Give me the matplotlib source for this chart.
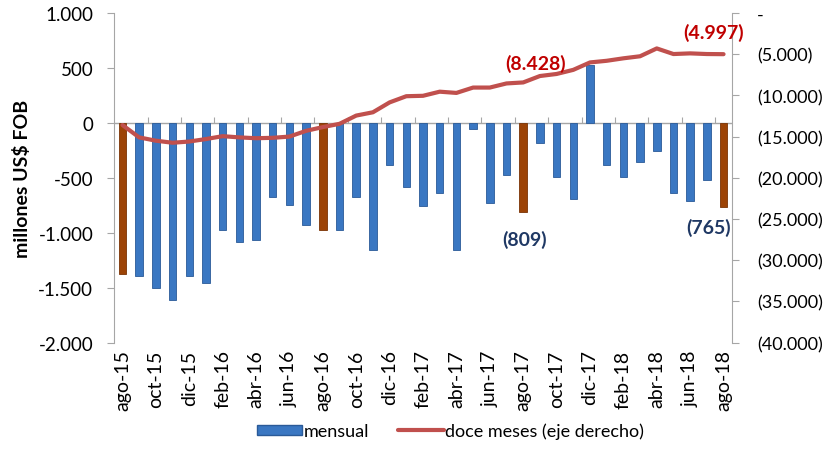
import numpy as np
import matplotlib.pyplot as plt
from matplotlib.ticker import FuncFormatter
from matplotlib.patches import Patch

plt.rcParams['font.family'] = ['Lato', 'DejaVu Sans']

# Datos (millones US$ FOB)
meses = ['ago-15', 'sep-15', 'oct-15', 'nov-15', 'dic-15', 'ene-16', 'feb-16', 'mar-16',
         'abr-16', 'may-16', 'jun-16', 'jul-16', 'ago-16', 'sep-16', 'oct-16', 'nov-16',
         'dic-16', 'ene-17', 'feb-17', 'mar-17', 'abr-17', 'may-17', 'jun-17', 'jul-17',
         'ago-17', 'sep-17', 'oct-17', 'nov-17', 'dic-17', 'ene-18', 'feb-18', 'mar-18',
         'abr-18', 'may-18', 'jun-18', 'jul-18', 'ago-18']

mensual = [-1379, -1394, -1500, -1616, -1394, -1455, -975, -1084,
           -1069, -674, -747, -929, -975, -975, -674, -1157,
           -383, -580, -756, -635, -1160, -52, -732, -474,
           -809, -179, -489, -695, 525, -383, -489, -361,
           -255, -635, -711, -522, -765]

doce_meses = [-13600, -15100, -15500, -15750, -15600, -15300, -14950, -15100,
              -15200, -15150, -15000, -14300, -13850, -13450, -12450, -12050,
              -10850, -10100, -10050, -9550, -9700, -9050, -9050, -8550,
              -8428, -7650, -7400, -6900, -6000, -5800, -5500, -5250,
              -4300, -4980, -4900, -4980, -4997]

# meses de agosto resaltados
resaltados = ['ago-15', 'ago-16', 'ago-17', 'ago-18']

azul = '#3A77C2'
x = np.arange(len(meses))
colores = ['#9C4306' if m in resaltados else azul for m in meses]
bordes = ['#7A3304' if m in resaltados else '#2A5A98' for m in meses]

fig = plt.figure(figsize=(8.27, 4.52), dpi=100)
ax1 = fig.add_axes([0.138, 0.240, 0.747, 0.729])
ax2 = ax1.twinx()

ax1.bar(x, mensual, width=0.45, color=colores, edgecolor=bordes, linewidth=0.6, zorder=2)
ax1.axhline(0, color='#a6a6a6', lw=1, zorder=1)

linea, = ax2.plot(x, doce_meses, color='#C0504D', lw=3, solid_capstyle='round', zorder=3)

# ejes
ax1.set_xlim(-0.5, len(meses) - 0.5)
ax1.set_ylim(-2000, 1000)
ax1.set_yticks(np.arange(-2000, 1001, 500))
ax1.yaxis.set_major_formatter(FuncFormatter(lambda v, p: f'{v:,.0f}'.replace(',', '.')))
ax2.set_ylim(-40000, 0)
ax2.set_yticks(np.arange(-40000, 1, 5000))
ax2.yaxis.set_major_formatter(
    FuncFormatter(lambda v, p: '-' if v == 0 else f'({-v:,.0f})'.replace(',', '.')))

ax1.set_xticks(x[::2])
ax1.set_xticklabels(meses[::2], rotation=90, fontsize=14)
ax1.tick_params(axis='x', length=0, pad=5)
ax1.tick_params(axis='y', labelsize=13.5, color='#a6a6a6', length=5, pad=10)
ax2.tick_params(axis='y', labelsize=13, color='#a6a6a6', length=5, pad=13)

# marcas del eje de categorias sobre el cero
sec = ax1.secondary_xaxis(2 / 3)
sec.set_xticks(x[1:-1:2] + 0.5)
sec.set_xticklabels([])
sec.tick_params(direction='out', length=4, color='#a6a6a6')
sec.spines['bottom'].set_visible(False)
sec.spines['top'].set_visible(False)

for ax in (ax1, ax2):
    ax.spines['top'].set_visible(False)
    ax.spines['bottom'].set_visible(False)
    ax.spines['left'].set_color('#a6a6a6')
    ax.spines['right'].set_color('#a6a6a6')
ax2.spines['left'].set_visible(False)
ax1.spines['right'].set_visible(False)

ax1.set_ylabel('millones US$ FOB', fontsize=14, fontweight='bold', labelpad=5)

# etiquetas de datos
i17 = meses.index('ago-17')
i18 = meses.index('ago-18')
ax2.annotate('(8.428)', (x[i17], doce_meses[i17]), xytext=(9, 10), textcoords='offset points',
             ha='center', color='#C00000', fontsize=14, fontweight='bold')
ax2.annotate('(4.997)', (x[i18], doce_meses[i18]), xytext=(-7, 12), textcoords='offset points',
             ha='center', color='#C00000', fontsize=14, fontweight='bold')
ax1.annotate('(809)', (x[i17], mensual[i17]), xytext=(1, -13), textcoords='offset points',
             ha='center', va='top', color='#1F3864', fontsize=14, fontweight='bold')
ax1.annotate('(765)', (x[i18], mensual[i18]), xytext=(-11, -8), textcoords='offset points',
             ha='center', va='top', color='#1F3864', fontsize=14, fontweight='bold')

fig.legend([Patch(facecolor=azul, edgecolor='#2A5A98'), linea],
           ['mensual', 'doce meses (eje derecho)'],
           loc='lower center', bbox_to_anchor=(0.545, -0.01), ncol=2,
           frameon=False, fontsize=13, handlelength=2.5, handleheight=0.5,
           handletextpad=0.1, columnspacing=1.6)

fig.savefig('out.png', dpi=100)
